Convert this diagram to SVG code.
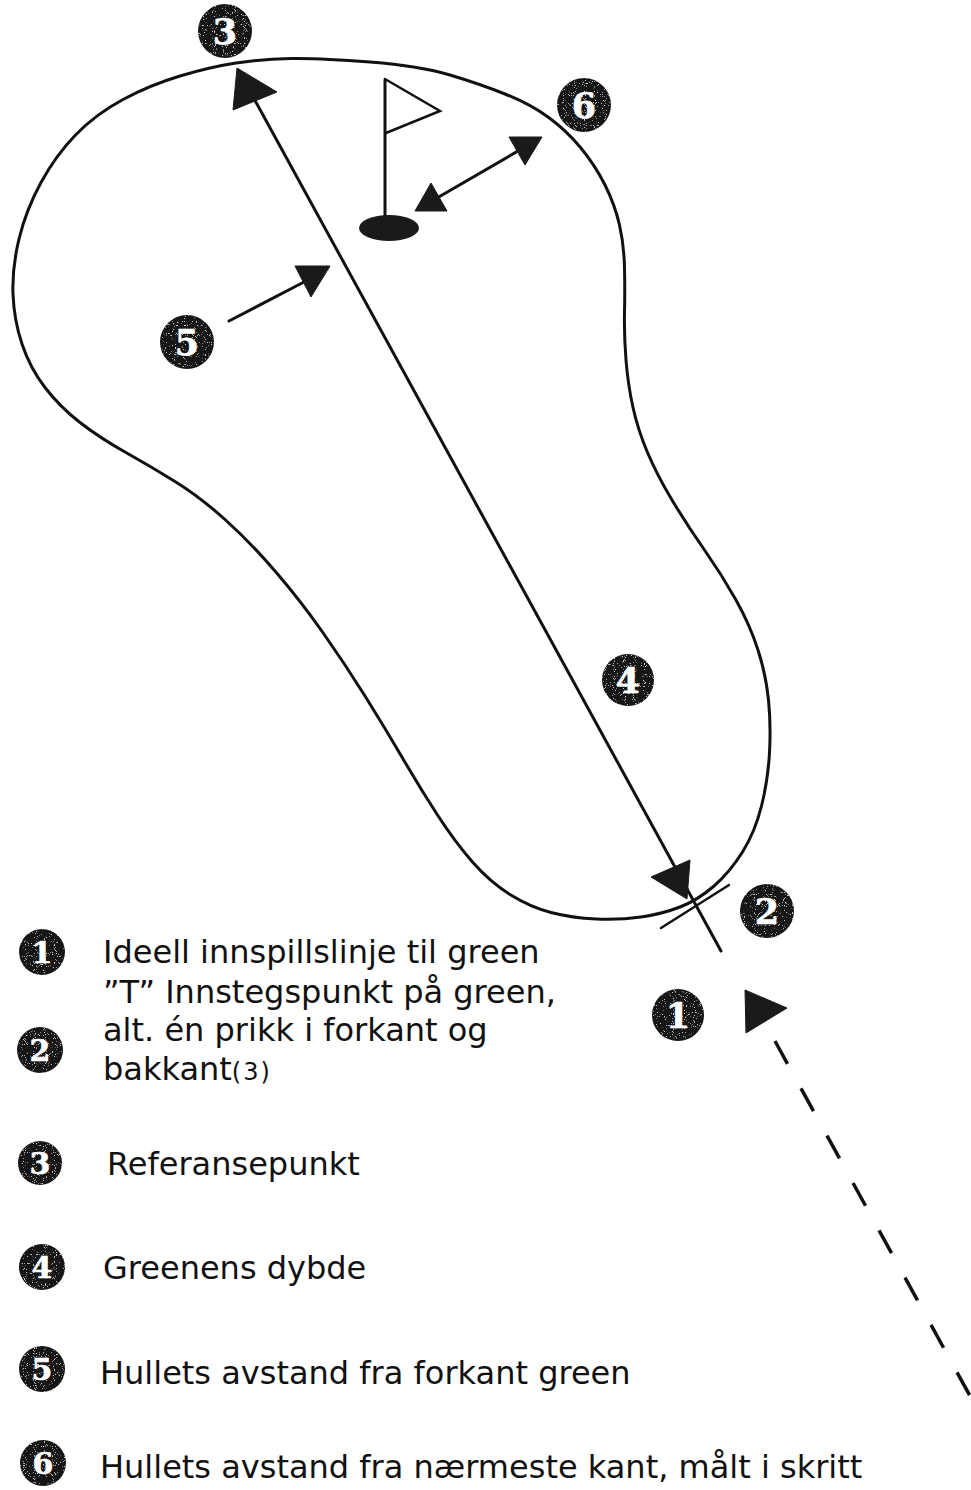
<svg xmlns="http://www.w3.org/2000/svg" width="971" height="1490" viewBox="0 0 971 1490">
  <defs>
    <style>
      .edge { fill: none; stroke: #111; stroke-width: 3; stroke-linecap: round; stroke-linejoin: round; }
      .thin { fill: none; stroke: #111; stroke-width: 2.5; stroke-linecap: round; }
      .head { fill: #1a1a1a; stroke: #1a1a1a; stroke-width: 1; stroke-linejoin: round; }
      .disc { fill: #151515; filter: url(#grain); }
      .num { fill: #fff; stroke: #fff; stroke-width: 0.6; stroke-linejoin: round; font-family: "DejaVu Serif", "Liberation Serif", serif; font-weight: bold; text-anchor: middle; }
      .big { font-size: 35px; }
      .small { font-size: 30px; }
      .label { fill: #111; font-family: "DejaVu Sans", Verdana, "Liberation Sans", sans-serif; font-size: 32px; }
      .sub { font-size: 24px; letter-spacing: 2px; }
    </style>
    <!-- light speckle on the numbered discs -->
    <filter id="grain" x="-10%" y="-10%" width="120%" height="120%">
      <feTurbulence type="fractalNoise" baseFrequency="0.9" numOctaves="1" seed="7" result="noise"/>
      <feColorMatrix in="noise" type="matrix" values="0 0 0 0 0.6  0 0 0 0 0.6  0 0 0 0 0.6  14 0 0 0 -8.9" result="dots"/>
      <feComposite in="dots" in2="SourceAlpha" operator="in" result="speck"/>
      <feMerge>
        <feMergeNode in="SourceGraphic"/>
        <feMergeNode in="speck"/>
      </feMerge>
    </filter>
  </defs>

  <rect width="971" height="1490" fill="#fff"/>

  <!-- outline of the green -->
  <g id="green">
    <path class="edge" d="M370,62 Q420,66 450,75 Q480,84 505,94 Q530,104 548,117 Q566,130 580.5,147.5 Q595,165 605,185 Q615,205 619.5,225 Q624,245 624.5,267.5 Q625,290 624.5,312.5 Q624,335 626,360 Q628,385 633,407.5 Q638,430 647.5,452.5 Q657,475 672,500 Q687,525 704.5,550 Q722,575 736,600 Q750,625 758,650 Q766,675 768.5,700 Q771,725 769.5,752.5 Q768,780 761.5,806 Q755,832 742.5,852 Q730,872 714,886 Q698,900 680,907 Q662,914 641,917 Q620,920 596,919 Q572,918 551,912.5 Q530,907 510,894.5 Q490,882 472.5,862 Q455,842 437.5,815 Q420,788 402.5,758 Q385,728 365,696 Q345,664 322.5,632 Q300,600 275,571 Q250,542 225,519.5 Q200,497 175,481.5 Q150,466 125,452 Q100,438 80,422.5 Q60,407 45,387.5 Q30,368 22,344 Q14,320 13,294 Q12,268 19,239 Q26,210 41,182.5 Q56,155 76,134.5 Q96,114 123,99.5 Q150,85 180,76 Q210,67 236,63 Q262,59 291,58.5 Q320,58 370,62 Z"/>
  </g>

  <!-- flag and hole -->
  <g id="flag">
    <line class="edge" x1="385" y1="80" x2="385" y2="216"/>
    <polyline class="thin" points="385,79 440,111 386,133"/>
  </g>
  <g id="hole">
    <ellipse cx="389" cy="228" rx="30" ry="13" fill="#1a1a1a"/>
  </g>

  <!-- measuring lines and arrowheads -->
  <g id="connectors">
    <!-- green depth, reference point to entry point -->
    <line class="edge" x1="252" y1="95" x2="721" y2="951"/>
    <polygon class="head" points="237,68 233,110 277,92"/>
    <polygon class="head" points="687,899 651,877 690,860"/>
    <!-- entry tick -->
    <line class="thin" x1="661" y1="928" x2="729" y2="885"/>
    <!-- hole distance from front -->
    <line class="edge" x1="229" y1="321" x2="304" y2="282"/>
    <polygon class="head" points="330,266 295,266 311,297"/>
    <!-- hole distance from nearest edge -->
    <line class="edge" x1="437" y1="198" x2="518" y2="151"/>
    <polygon class="head" points="415,211 431,183 447,211"/>
    <polygon class="head" points="542,137 509,137 525,165"/>
    <!-- ideal approach line -->
    <polygon class="head" points="745,990 787,1008 746,1033"/>
    <path d="M775,1041 L975,1405" fill="none" stroke="#111" stroke-width="3.5" stroke-dasharray="26 28"/>
  </g>

  <!-- numbered markers on the drawing -->
  <g id="marker-3"><circle class="disc" cx="225" cy="31" r="27"/><text class="num big" x="225" y="43.5">3</text></g>
  <g id="marker-6"><circle class="disc" cx="584" cy="105" r="27"/><text class="num big" x="584" y="117.5">6</text></g>
  <g id="marker-5"><circle class="disc" cx="187" cy="342" r="27"/><text class="num big" x="187" y="354.5">5</text></g>
  <g id="marker-4"><circle class="disc" cx="628" cy="680" r="26"/><text class="num big" x="628" y="692.5">4</text></g>
  <g id="marker-2"><circle class="disc" cx="767" cy="911" r="27"/><text class="num big" x="767" y="923.5">2</text></g>
  <g id="marker-1"><circle class="disc" cx="678" cy="1015" r="26"/><text class="num big" x="678" y="1027.5">1</text></g>

  <!-- legend -->
  <g id="legend-1">
    <circle class="disc" cx="42" cy="952" r="23"/><text class="num small" x="42" y="962.5">1</text>
    <text class="label" x="103" y="963">Ideell innspillslinje til green</text>
  </g>
  <g id="legend-2">
    <circle class="disc" cx="40" cy="1050" r="23"/><text class="num small" x="40" y="1060.5">2</text>
    <text class="label" x="103" y="1003">”T” Innstegspunkt på green,</text>
    <text class="label" x="103" y="1041">alt. én prikk i forkant og</text>
    <text class="label" x="103" y="1080">bakkant<tspan class="sub">(3)</tspan></text>
  </g>
  <g id="legend-3">
    <circle class="disc" cx="40" cy="1163" r="22"/><text class="num small" x="40" y="1173.5">3</text>
    <text class="label" x="107" y="1175">Referansepunkt</text>
  </g>
  <g id="legend-4">
    <circle class="disc" cx="42" cy="1267" r="23"/><text class="num small" x="42" y="1277.5">4</text>
    <text class="label" x="103" y="1279">Greenens dybde</text>
  </g>
  <g id="legend-5">
    <circle class="disc" cx="42" cy="1369" r="23"/><text class="num small" x="42" y="1379.5">5</text>
    <text class="label" x="100" y="1384">Hullets avstand fra forkant green</text>
  </g>
  <g id="legend-6">
    <circle class="disc" cx="43" cy="1463" r="23"/><text class="num small" x="43" y="1473.5">6</text>
    <text class="label" x="100" y="1478">Hullets avstand fra nærmeste kant, målt i skritt</text>
  </g>
</svg>
